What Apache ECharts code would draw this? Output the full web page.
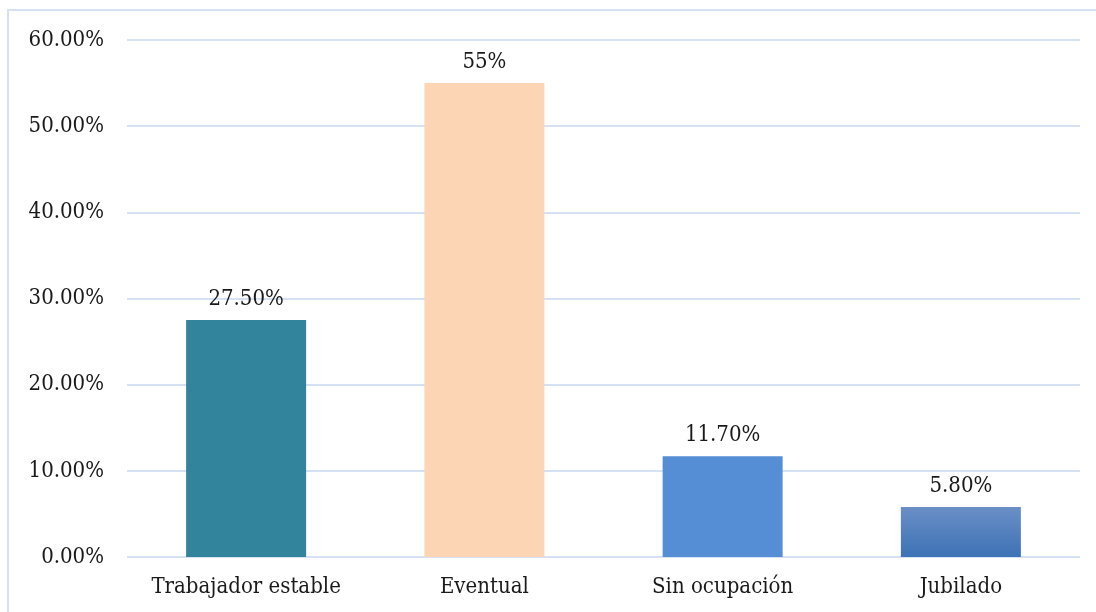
<!DOCTYPE html>
<html>
<head>
<meta charset="utf-8">
<script src="https://cdn.jsdelivr.net/npm/echarts@6/dist/echarts.min.js"></script>
<style>html,body{margin:0;padding:0;background:#fff;}#c{width:1096px;height:612px;}</style>
</head>
<body>
<div id="c"></div>
<script>
const categories = ['Trabajador estable', 'Eventual', 'Sin ocupación', 'Jubilado'];
const values = [27.5, 55, 11.7, 5.8];
const valueLabels = ['27.50%', '55%', '11.70%', '5.80%'];
const yTicks = [0, 10, 20, 30, 40, 50, 60];

const colors = [
  '#31849b',
  '#fcd5b5',
  '#558ed5',
  {type: 'linear', x: 0, y: 0, x2: 0, y2: 1, colorStops: [{offset: 0, color: '#6a8fc6'}, {offset: 1, color: '#3d72b6'}]}
];
const FONT = '"DejaVu Serif Condensed", "DejaVu Serif"';
const chart = echarts.init(document.getElementById('c'));
chart.setOption({
  animation: false,
  backgroundColor: '#fff',
  graphic: [{
    type: 'rect', shape: {x: 8, y: 10, width: 1300, height: 800},
    style: {fill: 'none', stroke: '#d6e2f4', lineWidth: 2}, z: -1
  }],
  grid: {left: 127, right: 16, top: 40, bottom: 55},
  xAxis: {
    type: 'category', data: categories,
    axisLine: {show: false}, axisTick: {show: false},
    axisLabel: {color: '#1a1a1a', fontFamily: FONT, fontSize: 22, margin: 19, interval: 0}
  },
  yAxis: {
    type: 'value', min: yTicks[0], max: yTicks[yTicks.length - 1], interval: 10,
    axisLine: {show: false}, axisTick: {show: false},
    splitLine: {lineStyle: {color: '#d6e2f4', width: 2}},
    axisLabel: {color: '#1a1a1a', fontFamily: FONT, fontSize: 22, margin: 23,
      formatter: v => v.toFixed(2) + '%'}
  },
  series: [{
    type: 'bar', barWidth: 120,
    data: values.map((v, i) => ({value: v, itemStyle: {color: colors[i]}})),
    label: {show: true, position: 'top', distance: 10, color: '#1a1a1a',
      fontFamily: FONT, fontSize: 22, formatter: p => valueLabels[p.dataIndex]}
  }]
});
</script>
</body>
</html>
